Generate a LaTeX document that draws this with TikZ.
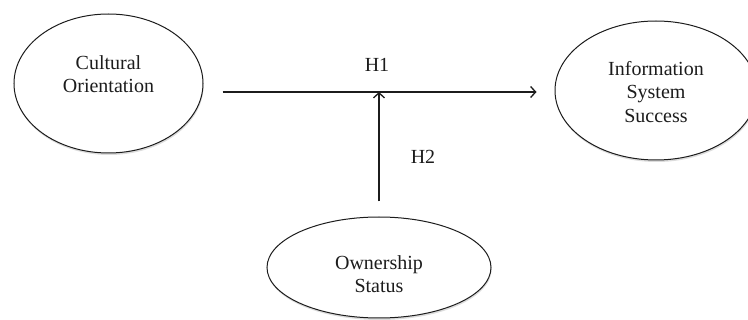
\documentclass[tikz,border=0pt]{standalone}
\usepackage{fontspec}
\setmainfont{Liberation Serif}
\usepackage{xcolor}
\usetikzlibrary{shapes.geometric,arrows.meta,shadows}
\definecolor{Ink Black}{HTML}{1C1C1C}
\definecolor{Shadow Gray}{HTML}{9A9A9A}

\begin{document}
\begin{tikzpicture}[x=1pt, y=-1pt]
  \useasboundingbox (0,0) rectangle (748,320);

  \tikzstyle{construct}=[ellipse, draw=Ink Black, line width=1pt, fill=white, inner sep=0pt,
    drop shadow={opacity=0.35, shadow xshift=0.6pt, shadow yshift=-2pt, fill=Shadow Gray}]
  \tikzstyle{caption}=[align=center, font=\fontsize{20}{23.5}\selectfont, text=Ink Black]
  \tikzstyle{link}=[draw=Ink Black, line width=1.3pt,
    -{Straight Barb[length=5pt, width=11pt, line width=1.3pt]}]

  % Draw the three constructs
  \node[construct, minimum width=189pt, minimum height=139pt] (cult) at (108.5,83.5) {};
  \node[construct, minimum width=202pt, minimum height=139pt] (info) at (656,90.5) {};
  \node[construct, minimum width=224pt, minimum height=101pt] (own) at (379,267.5) {};

  % Put the names inside
  \node[caption] (cult-txt) at ([yshift=9.5pt]cult.center) {Cultural\\Orientation};
  \node[caption] (info-txt) at ([yshift=-1.5pt]info.center) {Information\\System\\Success};
  \node[caption] (own-txt) at ([yshift=-6.5pt]own.center) {Ownership\\Status};

  % Main effect and moderation meet here
  \coordinate (hub) at (379,92);
  \draw[link, shorten <=19pt, shorten >=18pt] (cult.east |- hub) -- (info.west |- hub);
  \draw[link, shorten <=15pt] (own.north) -- (hub);

  % Hypotheses
  \node[caption] (h1) at (377,65) {H1};
  \node[caption] (h2) at (423,157) {H2};

\end{tikzpicture}
\end{document}
